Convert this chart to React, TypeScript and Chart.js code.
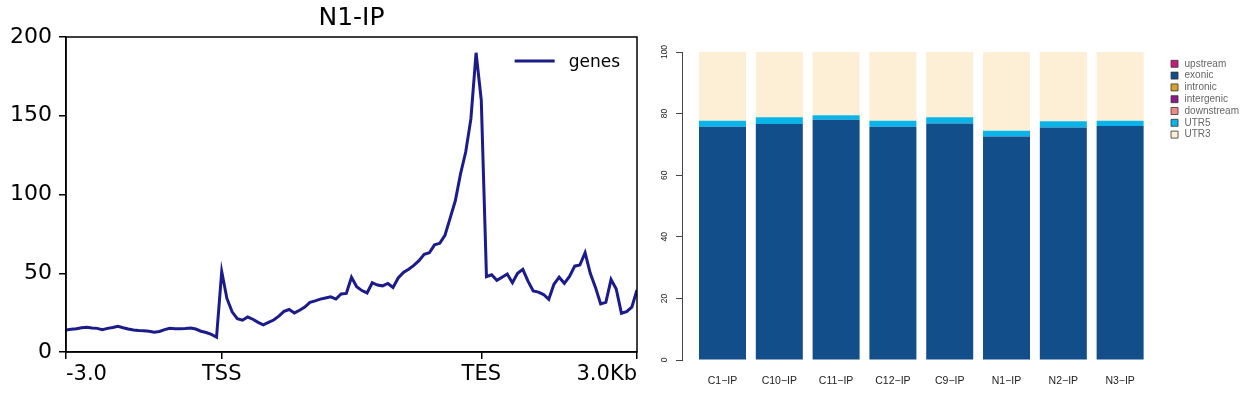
import React, { useEffect, useRef } from 'react';
import { Chart, registerables } from 'chart.js';

Chart.register(...registerables);

// ---------- Left panel: metagene profile ----------
const profileTitle = 'N1-IP';
const profileSeriesLabel = 'genes';
const profileTickBins = [0, 30, 80, 110];
const profileTickLabels = ['-3.0', 'TSS', 'TES', '3.0Kb'];
const profileYTicks = [0, 50, 100, 150, 200];
// one value per bin (30 upstream bins, 50 scaled body bins, 30 downstream bins + end)
const profileValues = [
  14.0, 14.4, 14.8, 15.4, 15.7, 15.3, 15.0, 14.2, 15.0, 15.6,
  16.3, 15.4, 14.6, 14.0, 13.7, 13.5, 13.2, 12.6, 13.0, 14.2,
  15.0, 14.7, 14.7, 14.9, 15.2, 14.6, 13.2, 12.4, 11.2, 9.4,
  51.0, 34.0, 25.5, 21.2, 20.2, 22.2, 20.8, 18.8, 17.3, 18.8,
  20.3, 22.8, 25.8, 27.0, 24.8, 26.5, 28.5, 31.5, 32.5, 33.6,
  34.3, 35.0, 33.6, 36.8, 37.2, 47.5, 41.5, 39.0, 37.5, 44.0,
  42.5, 42.0, 43.5, 41.0, 47.0, 50.5, 52.6, 55.0, 58.0, 62.0,
  63.0, 68.0, 69.0, 74.0, 85.0, 96.0, 113.0, 127.0, 148.0, 190.0,
  160.0, 47.8, 49.0, 45.5, 47.5, 49.5, 44.0, 50.0, 52.5, 45.0,
  38.8, 38.0, 36.5, 33.5, 43.0, 47.5, 43.6, 48.0, 54.5, 55.2,
  63.0, 50.0, 41.0, 30.5, 31.5, 46.0, 40.0, 24.6, 25.6, 28.5,
  39.4,
];

// ---------- Right panel: feature distribution ----------
const samples = ['C1\u2212IP', 'C10\u2212IP', 'C11\u2212IP', 'C12\u2212IP', 'C9\u2212IP', 'N1\u2212IP', 'N2\u2212IP', 'N3\u2212IP'];
const featureNames = ['upstream', 'exonic', 'intronic', 'intergenic', 'downstream', 'UTR5', 'UTR3'];
const upstream = [0, 0, 0, 0, 0, 0, 0, 0];
const exonic = [75.7, 76.6, 78.0, 75.7, 76.8, 72.6, 75.5, 76.0];
const intronic = [0, 0, 0, 0, 0, 0, 0, 0];
const intergenic = [0, 0, 0, 0, 0, 0, 0, 0];
const downstream = [0, 0, 0, 0, 0, 0, 0, 0];
const utr5 = [2.0, 2.2, 1.5, 2.0, 2.0, 1.8, 2.0, 1.7];
const utr3 = [22.3, 21.2, 20.5, 22.3, 21.2, 25.6, 22.5, 22.3];
const featureColors = ['#C51B7D', '#124E89', '#D4A52A', '#8B1A8B', '#F08A84', '#0AB4E8', '#FDEED6'];
const percentTicks = [0, 20, 40, 60, 80, 100];

function ProfileChart() {
  const ref = useRef<HTMLCanvasElement>(null);
  useEffect(() => {
    const canvas = ref.current!;
    const lineColor = '#1b1b8a';
    const decor = {
      id: 'profileDecor',
      afterDraw(chart: any) {
        const { ctx, chartArea: a } = chart;
        ctx.save();
        ctx.strokeStyle = '#000';
        ctx.lineWidth = 1.5;
        ctx.strokeRect(a.left, a.top, a.right - a.left, a.bottom - a.top);
        ctx.fillStyle = '#000';
        ctx.font = '25px "DejaVu Sans"';
        ctx.textAlign = 'center';
        ctx.textBaseline = 'alphabetic';
        ctx.fillText(profileTitle, (a.left + a.right) / 2, 25);
        ctx.font = '17px "DejaVu Sans"';
        ctx.textAlign = 'left';
        const tw = ctx.measureText(profileSeriesLabel).width;
        const tx = a.right - 17 - tw;
        ctx.fillText(profileSeriesLabel, tx, a.top + 29.5);
        ctx.strokeStyle = lineColor;
        ctx.lineWidth = 3;
        ctx.beginPath();
        ctx.moveTo(tx - 54, a.top + 24);
        ctx.lineTo(tx - 14, a.top + 24);
        ctx.stroke();
        ctx.restore();
      },
    };
    const axisGrid = { drawOnChartArea: false, drawTicks: true, tickLength: 7, color: '#000', lineWidth: 1.5 };
    const axisBorder = { display: true, color: '#000', width: 1.5 };
    const chart = new Chart(canvas, {
      type: 'line',
      data: {
        datasets: [
          {
            label: profileSeriesLabel,
            data: profileValues.map((y, x) => ({ x, y })),
            borderColor: lineColor,
            borderWidth: 3,
            pointRadius: 0,
            fill: false,
            tension: 0,
          },
        ],
      },
      options: {
        animation: false,
        responsive: false,
        layout: { padding: { left: 0, top: 37, right: 13, bottom: 0 } },
        plugins: { legend: { display: false }, tooltip: { enabled: false }, title: { display: false } },
        scales: {
          x: {
            type: 'linear',
            min: 0,
            max: 110,
            afterBuildTicks: (s: any) => {
              s.ticks = profileTickBins.map((v) => ({ value: v }));
            },
            afterFit: (s: any) => {
              s.height = 44;
            },
            ticks: {
              autoSkip: false,
              maxRotation: 0,
              minRotation: 0,
              align: 'inner',
              padding: 3,
              color: '#000',
              font: { family: 'DejaVu Sans', size: 21 },
              callback: (v: any) => {
                const k = profileTickBins.indexOf(Number(v));
                return k >= 0 ? profileTickLabels[k] : '';
              },
            },
            grid: axisGrid,
            border: axisBorder,
          },
          y: {
            min: 0,
            max: 200,
            afterBuildTicks: (s: any) => {
              s.ticks = profileYTicks.map((v) => ({ value: v }));
            },
            afterFit: (s: any) => {
              s.width = 66;
            },
            ticks: { padding: 7, color: '#000', font: { family: 'DejaVu Sans', size: 22 } },
            grid: axisGrid,
            border: axisBorder,
          },
        },
      } as any,
      plugins: [decor],
    });
    return () => chart.destroy();
  }, []);
  return <canvas ref={ref} width={650} height={396} style={{ position: 'absolute', left: 0, top: 0 }} />;
}

function FeatureChart() {
  const ref = useRef<HTMLCanvasElement>(null);
  useEffect(() => {
    const canvas = ref.current!;
    const series = [upstream, exonic, intronic, intergenic, downstream, utr5, utr3];
    const yLabels = {
      id: 'rotatedYLabels',
      afterDraw(chart: any) {
        const s = chart.scales.y;
        const ctx = chart.ctx;
        ctx.save();
        ctx.fillStyle = '#222';
        ctx.font = '8.5px "Liberation Sans"';
        ctx.textAlign = 'center';
        ctx.textBaseline = 'middle';
        for (const v of percentTicks) {
          const y = s.getPixelForValue(v);
          ctx.save();
          ctx.translate(s.right - 17.5, y);
          ctx.rotate(-Math.PI / 2);
          ctx.fillText(String(v), 0, 0);
          ctx.restore();
        }
        ctx.restore();
      },
    };
    const chart = new Chart(canvas, {
      type: 'bar',
      data: {
        datasets: featureNames.map((name, k) => ({
          label: name,
          data: series[k].map((y, x) => ({ x, y })),
          backgroundColor: featureColors[k],
          borderWidth: 0,
          stack: 'all',
          barPercentage: 1,
          categoryPercentage: 0.8275,
        })),
      },
      options: {
        animation: false,
        responsive: false,
        layout: { padding: { left: 0, top: 52, right: 5, bottom: 0 } },
        plugins: {
          tooltip: { enabled: false },
          legend: {
            display: true,
            position: 'right',
            align: 'start',
            title: { display: true, text: ' ', font: { size: 4, lineHeight: 1 }, padding: { top: 1, bottom: 0 } },
            labels: {
              usePointStyle: true,
              pointStyle: 'rect',
              boxWidth: 10,
              boxHeight: 7,
              padding: 1.8,
              color: '#222',
              font: { family: 'Liberation Sans', size: 10 },
              generateLabels: (c: any) =>
                c.data.datasets.map((d: any, i: number) => ({
                  text: d.label,
                  fillStyle: d.backgroundColor,
                  strokeStyle: '#333',
                  lineWidth: 0.8,
                  pointStyle: 'rect',
                  hidden: false,
                  datasetIndex: i,
                })),
            },
          },
        },
        scales: {
          x: {
            type: 'linear',
            offset: false,
            min: -0.713,
            max: 7.838,
            afterBuildTicks: (s: any) => {
              s.ticks = samples.map((_, i) => ({ value: i }));
            },
            afterFit: (s: any) => {
              s.height = 36;
            },
            ticks: {
              autoSkip: false,
              maxRotation: 0,
              minRotation: 0,
              padding: 15,
              color: '#222',
              font: { family: 'Liberation Sans', size: 10.5 },
              callback: (v: any) => samples[Number(v)] ?? '',
            },
            grid: { display: false, drawTicks: false },
            border: { display: false },
          },
          y: {
            stacked: true,
            min: 0,
            max: 100,
            afterBuildTicks: (s: any) => {
              s.ticks = percentTicks.map((v) => ({ value: v }));
            },
            afterFit: (s: any) => {
              s.width = 32;
            },
            ticks: { display: false },
            grid: { drawOnChartArea: false, drawTicks: true, tickLength: 6, color: '#444', lineWidth: 1 },
            border: { display: true, color: '#444', width: 1 },
          },
        },
      } as any,
      plugins: [yLabels],
    });
    return () => chart.destroy();
  }, []);
  return <canvas ref={ref} width={604} height={396} style={{ position: 'absolute', left: 650, top: 0 }} />;
}

export default function App() {
  return (
    <div style={{ position: 'fixed', left: 0, top: 0, width: 1246, height: 396, background: '#fff', overflow: 'hidden' }}>
      <ProfileChart />
      <FeatureChart />
    </div>
  );
}
